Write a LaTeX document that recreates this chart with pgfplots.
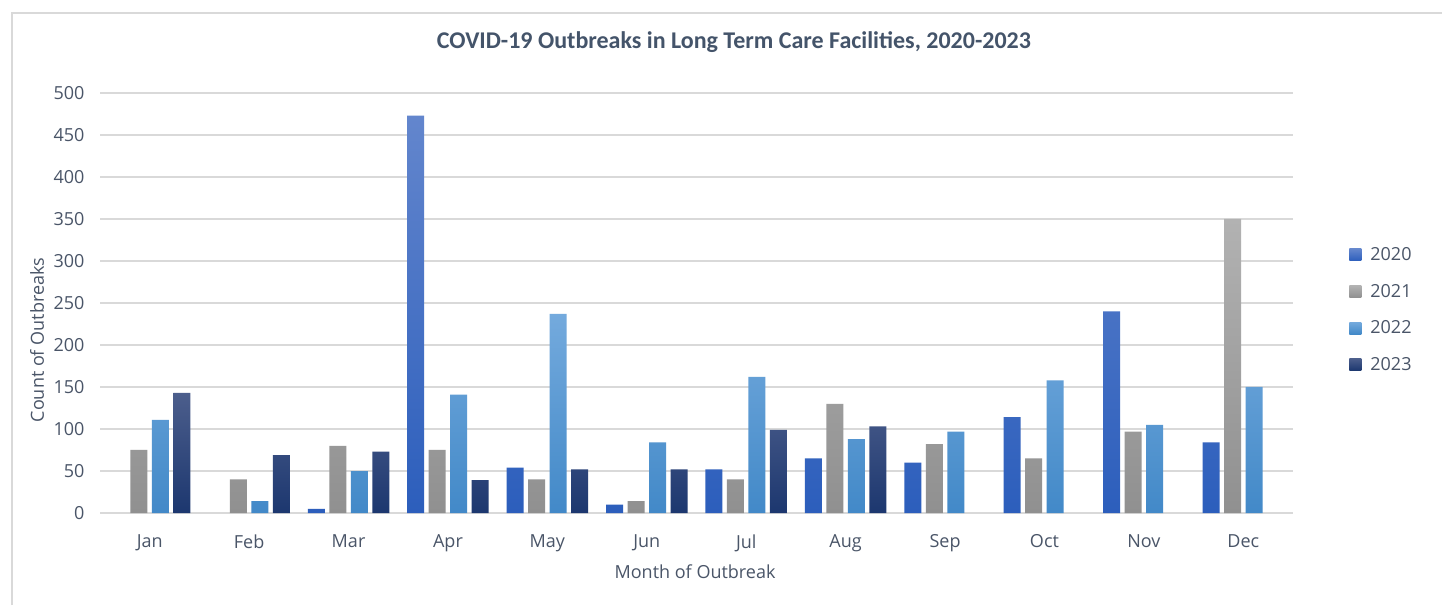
\documentclass[border=0pt]{standalone}
\usepackage{pgfplots}
\pgfplotsset{compat=1.18}
\usepackage{fontspec}
\setmainfont{Open Sans}
\newfontfamily\titlefont{Carlito}
\definecolor{txt}{HTML}{4A5568}
\definecolor{ttl}{HTML}{44546A}
\definecolor{grd}{HTML}{D9D9D9}
\definecolor{aT}{HTML}{6386CD}\definecolor{aB}{HTML}{2C5EBC}
\definecolor{bT}{HTML}{B2B2B2}\definecolor{bB}{HTML}{909090}
\definecolor{cT}{HTML}{74AADD}\definecolor{cB}{HTML}{4289C8}
\definecolor{dT}{HTML}{4C5E8C}\definecolor{dB}{HTML}{1C376F}
\pgfplotstableread{
x y
2 5
3 473
4 54
5 10
6 52
7 65
8 60
9 114
10 240
11 84
}\tA
\pgfplotstableread{
x y
0 75
1 40
2 80
3 75
4 40
5 14
6 40
7 130
8 82
9 65
10 97
11 350
}\tB
\pgfplotstableread{
x y
0 111
1 14
2 50
3 141
4 237
5 84
6 162
7 88
8 97
9 158
10 105
11 150
}\tC
\pgfplotstableread{
x y
0 143
1 69
2 73
3 39
4 52
5 52
6 99
7 103
}\tD
\begin{document}
\begin{tikzpicture}
\useasboundingbox (0pt,0pt) rectangle (1442pt,605pt);
\fill[white] (0pt,0pt) rectangle (1442pt,605pt);
\draw[grd, line width=1.2pt] (12pt,0pt) -- (12pt,592pt) -- (1442pt,592pt);
\node[font=\titlefont\bfseries\fontsize{24}{28}\selectfont, text=ttl] at (734pt,563pt) {COVID-19 Outbreaks in Long Term Care Facilities, 2020-2023};
\begin{axis}[
  at={(100pt,92pt)}, anchor=south west,
  scale only axis, width=1193pt, height=420pt,
  xmin=-0.5, xmax=11.5, ymin=0, ymax=500,
  ybar=4.5pt, bar width=17pt,
  xtick={0,...,11},
  xticklabels={Jan,Feb,Mar,Apr,May,Jun,Jul,Aug,Sep,Oct,Nov,Dec},
  ytick={0,50,...,500},
  ymajorgrids, major grid style={draw=grd, line width=1.5pt},
  axis line style={draw=none},
  major tick length=0pt,
  tick style={draw=none},
  /pgf/number format/assume math mode=true,
  ticklabel style={font=\fontsize{18}{20}\selectfont, text=txt},
  yticklabel style={xshift=-12pt},
  xticklabel style={yshift=-18pt},
  xlabel={Month of Outbreak}, ylabel={Count of Outbreaks},
  every axis x label/.style={at={(axis description cs:0.4988,-0.14)}, anchor=center, font=\fontsize{18}{20}\selectfont, text=txt},
  every axis y label/.style={at={(axis description cs:-0.0528,0.412)}, rotate=90, anchor=center, font=\fontsize{18}{20}\selectfont, text=txt},
  legend style={draw=none, fill=none, at={(axis description cs:1.0471,0.637)}, anchor=north west,
    font=\fontsize{18}{20}\selectfont, text=txt, row sep=18pt, inner sep=0pt,
    /tikz/every odd column/.append style={column sep=7pt}},
  legend cell align=left,
  legend image code/.code={\path[#1,draw=none] (0pt,-6pt) rectangle (12pt,6pt);},
  every axis plot/.append style={draw=none},
]
\addplot[top color=aT, bottom color=aB, draw=none] table {\tA};
\addplot[top color=bT, bottom color=bB, draw=none] table {\tB};
\addplot[top color=cT, bottom color=cB, draw=none] table {\tC};
\addplot[top color=dT, bottom color=dB, draw=none] table {\tD};
\legend{2020,2021,2022,2023}
\end{axis}
\end{tikzpicture}
\end{document}
